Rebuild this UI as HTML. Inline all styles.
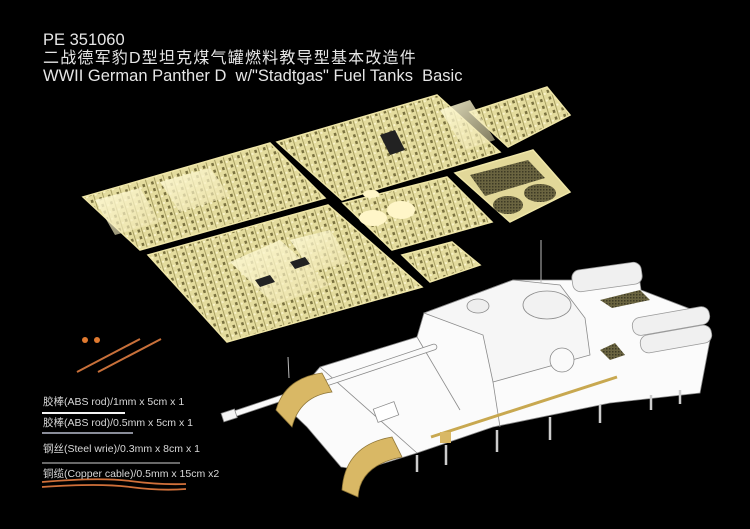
<!DOCTYPE html>
<html><head><meta charset="utf-8"><style>
html,body{margin:0;padding:0;background:#000;}
body{width:750px;height:529px;overflow:hidden;position:relative;font-family:"Liberation Sans","Noto Sans CJK SC",sans-serif;}
.t{position:absolute;left:43px;color:#e6e6e6;white-space:nowrap;line-height:1;}
.l{position:absolute;left:43px;font-size:10.5px;color:#d8d8d8;white-space:nowrap;line-height:1;}
</style></head><body>
<svg width="750" height="529" style="position:absolute;left:0;top:0">
<defs>
<pattern id="pe" width="9" height="7" patternUnits="userSpaceOnUse" patternTransform="rotate(-17)">
<rect width="9" height="7" fill="#e4dc9e"/>
<rect x="1" y="1" width="2.5" height="3" fill="#7a7240"/>
<rect x="5" y="0" width="0.8" height="7" fill="#9a9255"/>
<rect x="6.5" y="3" width="2" height="2" fill="#f8f2c8"/>
</pattern>
<pattern id="mesh" width="3" height="3" patternUnits="userSpaceOnUse">
<rect width="3" height="3" fill="#6a6440"/><rect width="1.5" height="1.5" fill="#3d3a25"/>
</pattern>
<linearGradient id="gl" x1="0" y1="0" x2="1" y2="1"><stop offset="0" stop-color="#fffbd8" stop-opacity=".9"/><stop offset="1" stop-color="#f0e6b0" stop-opacity=".5"/></linearGradient>
</defs>
<g stroke="#efe6a8" stroke-width="1.5">
<polygon points="83,197 270,143 325,198 140,250" fill="url(#pe)"/>
<polygon points="148,255 328,205 422,287 227,342" fill="url(#pe)"/>
<polygon points="277,142 437,95 500,152 342,200" fill="url(#pe)"/>
<polygon points="343,203 447,177 492,222 392,250" fill="url(#pe)"/>
<polygon points="402,255 452,242 480,265 430,282" fill="url(#pe)"/>
<polygon points="470,112 547,87 570,115 508,147" fill="url(#pe)"/>
<polygon points="455,173 533,150 570,192 510,222" fill="#e2d899"/>
</g>
<g fill="url(#gl)">
<polygon points="95,200 140,188 160,222 115,235"/>
<polygon points="160,182 210,168 230,196 180,212"/>
<polygon points="230,262 280,240 330,285 275,305"/>
<polygon points="290,240 330,230 350,262 312,272"/>
<polygon points="440,110 470,100 495,140 465,150"/>
</g>
<g fill="#fff6c8">
<ellipse cx="373" cy="218" rx="14" ry="8"/><ellipse cx="401" cy="210" rx="14" ry="9"/><ellipse cx="371" cy="194" rx="8" ry="4"/>
</g>
<g fill="url(#mesh)">
<polygon points="470,175 528,160 545,178 485,196"/>
<ellipse cx="508" cy="205" rx="15" ry="9"/><ellipse cx="540" cy="193" rx="16" ry="9"/>
</g>
<g fill="#222">
<polygon points="380,135 395,130 405,150 390,155"/>
<polygon points="255,280 270,275 275,282 260,287"/>
<polygon points="290,262 305,257 310,264 295,269"/>
</g>
<circle cx="85" cy="340" r="3" fill="#e07a30"/><circle cx="97" cy="340" r="3" fill="#e07a30"/>
<line x1="77" y1="372" x2="140" y2="339" stroke="#c8703a" stroke-width="2"/>
<line x1="98" y1="372" x2="161" y2="339" stroke="#c8703a" stroke-width="2"/>
<line x1="42" y1="413" x2="125" y2="413" stroke="#f4f4f4" stroke-width="2"/>
<line x1="42" y1="433" x2="133" y2="433" stroke="#b8bccc" stroke-width="1.5"/>
<line x1="42" y1="463" x2="180" y2="463" stroke="#a8a8a8" stroke-width="1.3"/>
<path d="M42,482 Q100,477 130,481 T186,484" stroke="#d0703a" stroke-width="1.8" fill="none"/>
<path d="M42,487 Q100,483 130,487 T186,489" stroke="#d0703a" stroke-width="1.8" fill="none"/>
<g stroke="#8a8a8a" stroke-width="0.8">
<polygon points="286,407 320,367 417,337 424,313 513,280 572,280 638,267 641,290 693,310 710,340 700,393 610,403 493,427 417,453 362,470 341,467 307,427" fill="#fbfbfb"/>
<polygon points="424,313 513,280 560,285 585,318 590,355 493,382 483,335" fill="#f6f6f6"/>
<ellipse cx="547" cy="305" rx="24" ry="14" fill="#f2f2f2"/>
<ellipse cx="478" cy="306" rx="11" ry="7" fill="#eee"/>
<circle cx="562" cy="360" r="12" fill="#fafafa"/>
<line x1="493" y1="382" x2="500" y2="427"/>
<line x1="320" y1="367" x2="417" y2="453"/>
<line x1="417" y1="337" x2="460" y2="410"/>
<rect x="375" y="405" width="22" height="14" fill="#fff" transform="rotate(-20 386 412)"/>
</g>
<g fill="#f0f0f0" stroke="#999" stroke-width="0.8">
<rect x="572" y="266" width="70" height="22" rx="8" transform="rotate(-8 607 277)"/>
<rect x="632" y="312" width="78" height="18" rx="8" transform="rotate(-10 671 321)"/>
<rect x="640" y="330" width="72" height="18" rx="8" transform="rotate(-10 676 339)"/>
</g>
<polygon points="600,300 640,290 650,300 612,308" fill="url(#mesh)"/>
<polygon points="600,350 615,343 625,355 610,360" fill="url(#mesh)"/>
<line x1="434" y1="347" x2="228" y2="416" stroke="#888" stroke-width="6.5" stroke-linecap="round"/>
<line x1="434" y1="347" x2="228" y2="416" stroke="#fafafa" stroke-width="5" stroke-linecap="round"/>
<rect x="222" y="411" width="14" height="9" fill="#f4f4f4" stroke="#888" stroke-width="0.8" transform="rotate(-18 229 415)"/>
<path d="M276,410 Q285,378 322,373 L332,392 Q300,396 292,427 Z" fill="#d9b865" stroke="#8d7436" stroke-width="0.8"/>
<path d="M342,490 Q345,445 392,437 L402,457 Q360,465 358,497 Z" fill="#d9b865" stroke="#8d7436" stroke-width="0.8"/>
<line x1="431" y1="437" x2="617" y2="377" stroke="#c8a850" stroke-width="3"/>
<rect x="440" y="432" width="11" height="11" fill="#d9b865"/>
<line x1="541" y1="240" x2="541" y2="283" stroke="#bbb" stroke-width="1"/>
<line x1="288" y1="357" x2="289" y2="378" stroke="#bbb" stroke-width="1"/>
<g stroke="#ccc" stroke-width="2.5">
<line x1="417" y1="455" x2="417" y2="472"/><line x1="446" y1="445" x2="446" y2="465"/>
<line x1="497" y1="430" x2="497" y2="452"/><line x1="550" y1="417" x2="550" y2="440"/>
<line x1="600" y1="405" x2="600" y2="423"/><line x1="651" y1="395" x2="651" y2="410"/>
<line x1="680" y1="390" x2="680" y2="404"/>
</g>
</svg>
<div class="t" style="top:32px;font-size:16.5px;">PE 351060</div>
<div class="t" style="top:51px;font-size:16px;letter-spacing:1.2px;">二战德军豹D型坦克煤气罐燃料教导型基本改造件</div>
<div class="t" style="top:68px;font-size:16.5px;">WWII German Panther D&nbsp; w/"Stadtgas" Fuel Tanks&nbsp; Basic</div>
<div class="l" style="top:397px;">胶棒(ABS rod)/1mm x 5cm x 1</div>
<div class="l" style="top:418px;">胶棒(ABS rod)/0.5mm x 5cm x 1</div>
<div class="l" style="top:444px;">钢丝(Steel wrie)/0.3mm x 8cm x 1</div>
<div class="l" style="top:469px;">铜缆(Copper cable)/0.5mm x 15cm x2</div>
</body></html>
